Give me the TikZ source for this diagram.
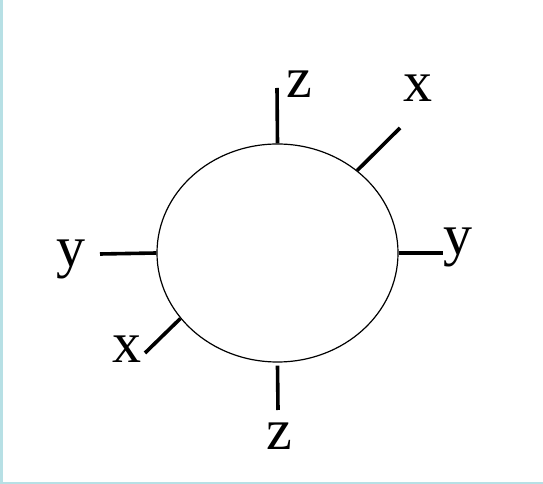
\documentclass[tikz,border=0pt]{standalone}
\usepackage{fontspec}
\setmainfont{Liberation Serif}
\usepackage{tikz}
\usetikzlibrary{shapes.geometric}
\definecolor{framec}{RGB}{183,224,229}

\begin{document}
\begin{tikzpicture}[x=1pt,y=1pt,
		ticks/.style={line width=3.6pt},
		lbl/.style={font=\fontsize{58}{60}\selectfont,anchor=base,inner sep=0pt}]
			\useasboundingbox (0,0) rectangle (543,484);
			% frame edges
			\fill[white] (0,0) rectangle (543,484);
			\fill[framec] (0,0) rectangle (3,484);
			\fill[framec] (0,0) rectangle (543,2);
			% ring
			\node[draw,ellipse,line width=1.2pt,minimum width=241pt,minimum height=218pt,inner sep=0pt] (ring) at (277.5,231) {};
			% free ends of the ticks
			\coordinate (ztop) at (277,396);
			\coordinate (zbot) at (278,74);
			\coordinate (yleft) at (100,230);
			\coordinate (yright) at (443,231);
			\coordinate (xtop) at (400,356);
			\coordinate (xbot) at (145,131);
			% ticks
			\draw[ticks] (ring.north) -- (ztop);
			\draw[ticks] ([yshift=-3pt]ring.south) -- (zbot);
			\draw[ticks] (ring.west) -- (yleft);
			\draw[ticks] (ring.east) -- (yright);
			\draw[ticks] (ring.46) -- (xtop);
			\draw[ticks] (ring.214) -- (xbot);
			% labels
			\node[lbl] (lzt) at (299,386) {z};
			\node[lbl] (lzb) at (279,34) {z};
			\node[lbl] (lyl) at (71,217) {y};
			\node[lbl] (lyr) at (458,229) {y};
			\node[lbl] (lxt) at (418,382) {x};
			\node[lbl] (lxb) at (127,121) {x};
		\end{tikzpicture}
\end{document}
